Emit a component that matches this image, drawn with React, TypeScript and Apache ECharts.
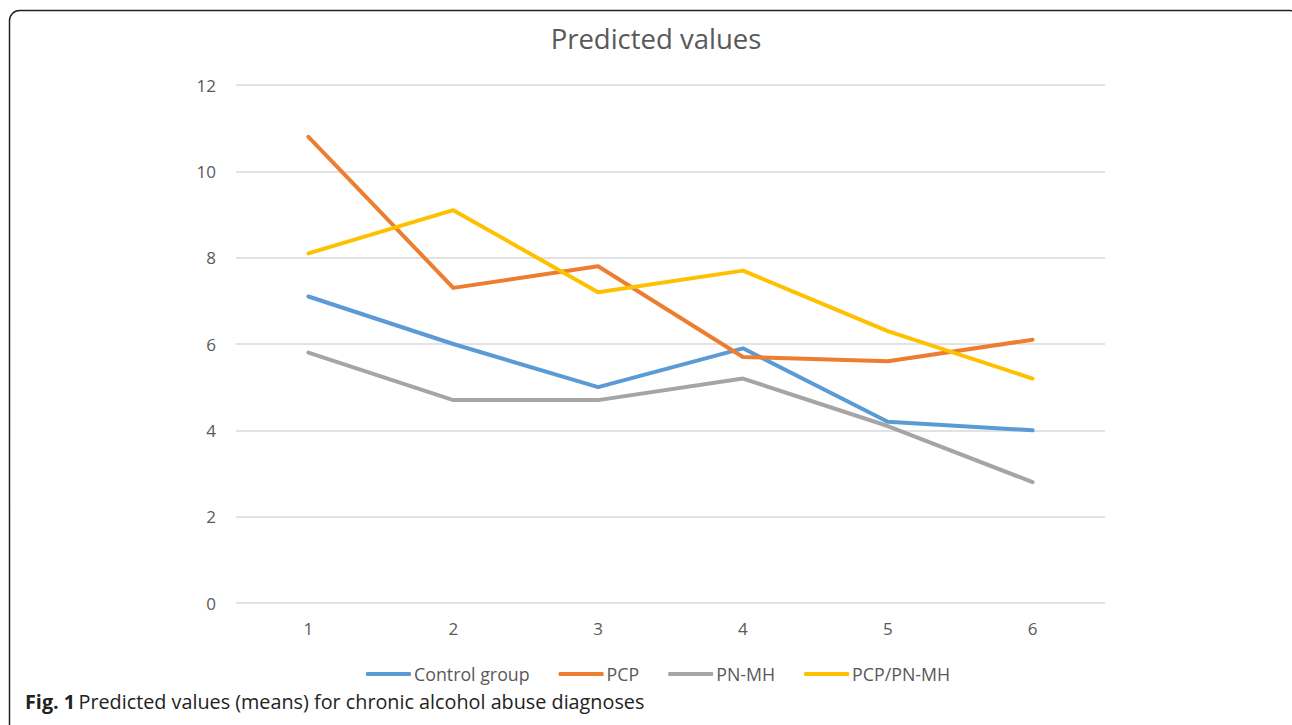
import React, { useEffect, useRef } from "react";
import * as echarts from "echarts";

const categories = ["1", "2", "3", "4", "5", "6"];
const controlGroup = [7.1, 6.0, 5.0, 5.9, 4.2, 4.0];
const pcp = [10.8, 7.3, 7.8, 5.7, 5.6, 6.1];
const pnmh = [5.8, 4.7, 4.7, 5.2, 4.1, 2.8];
const pcpPnmh = [8.1, 9.1, 7.2, 7.7, 6.3, 5.2];
const seriesNames = ["Control group", "PCP", "PN-MH", "PCP/PN-MH"];
const colors = ["#5B9BD5", "#ED7D31", "#A5A5A5", "#FFC000"];

const FONT = "'Open Sans', 'Noto Sans', sans-serif";

export default function App() {
  const ref = useRef<HTMLDivElement>(null);
  useEffect(() => {
    if (!ref.current) return;
    const chart = echarts.init(ref.current, null, { renderer: "svg" });
    const data = [controlGroup, pcp, pnmh, pcpPnmh];
    chart.setOption({
      animation: false,
      backgroundColor: "#ffffff",
      color: colors,
      title: {
        text: "Predicted values",
        left: 651,
        textAlign: "center",
        top: 19,
        textStyle: { fontFamily: FONT, fontSize: 27.5, fontWeight: "normal", color: "#595959" },
      },
      legend: {
        data: seriesNames,
        left: 361,
        top: 660,
        itemWidth: 45,
        itemHeight: 4,
        itemGap: 29,
        icon: "roundRect",
        textStyle: { fontFamily: FONT, fontSize: 17.8, color: "#595959", padding: [0, 0, 0, -2] },
      },
      grid: { left: 236, right: 187, top: 85, bottom: 122, containLabel: false },
      xAxis: {
        type: "category",
        data: categories,
        boundaryGap: true,
        axisLine: { show: false },
        axisTick: { show: false },
        axisLabel: { fontFamily: FONT, fontSize: 17, color: "#595959", margin: 17 },
      },
      yAxis: {
        type: "value",
        min: 0,
        max: 12,
        interval: 2,
        axisLine: { show: false },
        axisTick: { show: false },
        splitLine: { lineStyle: { color: "#D9D9D9", width: 1.5 } },
        axisLabel: { fontFamily: FONT, fontSize: 17, color: "#595959", margin: 20 },
      },
      series: seriesNames.map((name, i) => ({
        name,
        type: "line",
        data: data[i],
        symbol: "none",
        lineStyle: { width: 4, color: colors[i], cap: "round", join: "round" },
        itemStyle: { color: colors[i] },
      })),
      graphic: [
        {
          type: "rect",
          shape: { x: 9.5, y: 10.5, width: 1290, height: 730, r: 10 },
          style: { fill: "none", stroke: "#222222", lineWidth: 1.5 },
          silent: true,
        },
        {
          type: "text",
          left: 25,
          top: 691,
          style: {
            rich: {
              b: { fontFamily: FONT, fontSize: 19.8, fontWeight: "bold", fill: "#222222" },
              n: { fontFamily: FONT, fontSize: 19.8, fill: "#222222" },
            },
            text: "{b|Fig. 1} {n|Predicted values (means) for chronic alcohol abuse diagnoses}",
          },
        },
      ],
    });
    return () => chart.dispose();
  }, []);
  return (
    <div
      ref={ref}
      style={{ position: "fixed", left: 0, top: 0, width: 1292, height: 725 }}
    />
  );
}
